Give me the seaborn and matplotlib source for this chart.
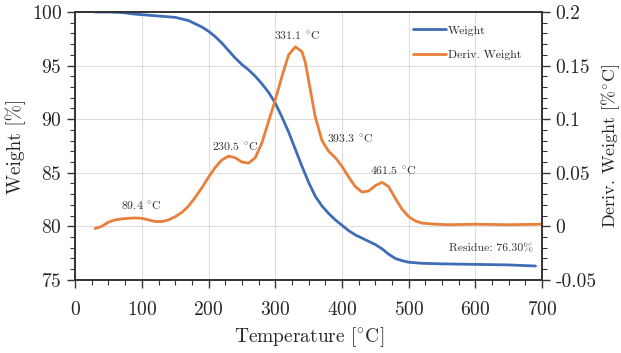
import numpy as np
import pandas as pd
import seaborn as sns
import matplotlib.pyplot as plt
from matplotlib.ticker import MultipleLocator
from matplotlib.lines import Line2D

# ── data ────────────────────────────────────────
wt_temp = [30, 50, 70, 90, 110, 130, 150, 170, 190, 200, 210, 220, 230, 240,
           250, 260, 270, 280, 290, 300, 310, 320, 330, 340, 350, 360, 370,
           380, 390, 400, 410, 420, 430, 440, 450, 460, 470, 480, 490, 500,
           520, 550, 600, 650, 690]
weight = [100.0, 100.0, 99.95, 99.8, 99.7, 99.6, 99.5, 99.2, 98.6, 98.2, 97.7,
          97.1, 96.4, 95.7, 95.1, 94.6, 94.0, 93.3, 92.5, 91.5, 90.2, 88.8,
          87.2, 85.6, 84.1, 82.8, 81.9, 81.2, 80.6, 80.1, 79.6, 79.2, 78.9,
          78.6, 78.3, 77.9, 77.4, 77.0, 76.8, 76.65, 76.55, 76.5, 76.45, 76.4,
          76.3]

dw_temp = [30, 40, 50, 60, 70, 80, 90, 100, 110, 120, 130, 140, 150, 160, 170,
           180, 190, 200, 210, 220, 230, 240, 250, 260, 270, 280, 290, 300,
           310, 320, 330, 340, 345, 350, 360, 370, 380, 390, 400, 410, 420,
           430, 440, 450, 460, 470, 480, 490, 500, 510, 520, 540, 560, 600,
           650, 700]
deriv = [-0.002, 0.0, 0.004, 0.006, 0.007, 0.0075, 0.0078, 0.0075, 0.006,
         0.0045, 0.0045, 0.006, 0.009, 0.013, 0.019, 0.027, 0.036, 0.046,
         0.055, 0.062, 0.0655, 0.064, 0.060, 0.059, 0.064, 0.078, 0.098,
         0.118, 0.140, 0.160, 0.1675, 0.163, 0.153, 0.136, 0.102, 0.080,
         0.070, 0.064, 0.056, 0.046, 0.037, 0.032, 0.033, 0.038, 0.041,
         0.037, 0.026, 0.016, 0.009, 0.005, 0.003, 0.002, 0.0015, 0.002,
         0.0015, 0.002]

deg = r"$^{\circ}$"
peak_labels = ["89.4 " + deg + "C", "230.5 " + deg + "C", "331.1 " + deg + "C",
               "393.3 " + deg + "C", "461.5 " + deg + "C"]
# label positions (temperature, deriv. weight)
label_x = [99, 240, 333, 412, 477]
label_y = [0.0187, 0.0746, 0.178, 0.082, 0.052]
residue_text = "Residue: 76.30%"

right_ticks = [-0.05, 0, 0.05, 0.1, 0.15, 0.2]
right_ticklabels = ["-0.05", "0", "0.05", "0.1", "0.15", "0.2"]

wt_df = pd.DataFrame({"T": wt_temp, "w": weight})
dw_df = pd.DataFrame({"T": dw_temp, "d": deriv})

# ── style ───────────────────────────────────────
sns.set_theme(style="ticks")
plt.rcParams["font.family"] = ["cmr10", "DejaVu Serif"]
plt.rcParams["mathtext.fontset"] = "cm"
plt.rcParams["axes.unicode_minus"] = False
plt.rcParams["axes.formatter.use_mathtext"] = True

blue = "#3F6DB5"
orange = "#E8803A"
txt = "#333333"

fig, ax = plt.subplots(figsize=(6.21, 3.53), dpi=100)
fig.subplots_adjust(left=0.121, right=0.873, top=0.966, bottom=0.207)
ax2 = ax.twinx()

sns.lineplot(data=wt_df, x="T", y="w", ax=ax, color=blue, lw=2)
sns.lineplot(data=dw_df, x="T", y="d", ax=ax2, color=orange, lw=2)

ax.set_xlim(0, 700)
ax.set_ylim(75, 100)
ax2.set_ylim(-0.05, 0.2)

ax.xaxis.set_major_locator(MultipleLocator(100))
ax.xaxis.set_minor_locator(MultipleLocator(25))
ax.yaxis.set_major_locator(MultipleLocator(5))
ax.yaxis.set_minor_locator(MultipleLocator(1))
ax2.set_yticks(right_ticks)
ax2.set_yticklabels(right_ticklabels)
ax2.yaxis.set_minor_locator(MultipleLocator(0.01))

ax.grid(True, which="major", color="#dddddd", lw=0.8)
ax.set_axisbelow(True)

for a in (ax, ax2):
    a.tick_params(which="major", length=6, width=1, labelsize=14, color=txt)
    a.tick_params(which="minor", length=3.5, width=0.8, color=txt)
    for s in a.spines.values():
        s.set_color(txt)
        s.set_linewidth(1.2)
ax.tick_params(axis="x", pad=9)

ax.set_xlabel("Temperature [" + deg + "C]", fontsize=14, labelpad=5)
ax.set_ylabel("Weight [%]", fontsize=14)
ax2.set_ylabel("Deriv. Weight [%" + deg + "C]", fontsize=13, labelpad=2)

# peak labels
for lab, lx, ly in zip(peak_labels, label_x, label_y):
    ax2.text(lx, ly, lab, ha="center", va="center", fontsize=8.5, color=txt)
ax.text(624, 77.9, residue_text, ha="center", va="center", fontsize=8.5,
        color=txt)

handles = [Line2D([], [], color=blue, lw=2), Line2D([], [], color=orange, lw=2)]
ax2.legend(handles, ["Weight", "Deriv. Weight"], loc="upper left",
           bbox_to_anchor=(0.7, 0.99), frameon=False, fontsize=8.5,
           handlelength=2.8, handletextpad=0.2, labelspacing=1.2)

fig.savefig("out.png", dpi=100)
